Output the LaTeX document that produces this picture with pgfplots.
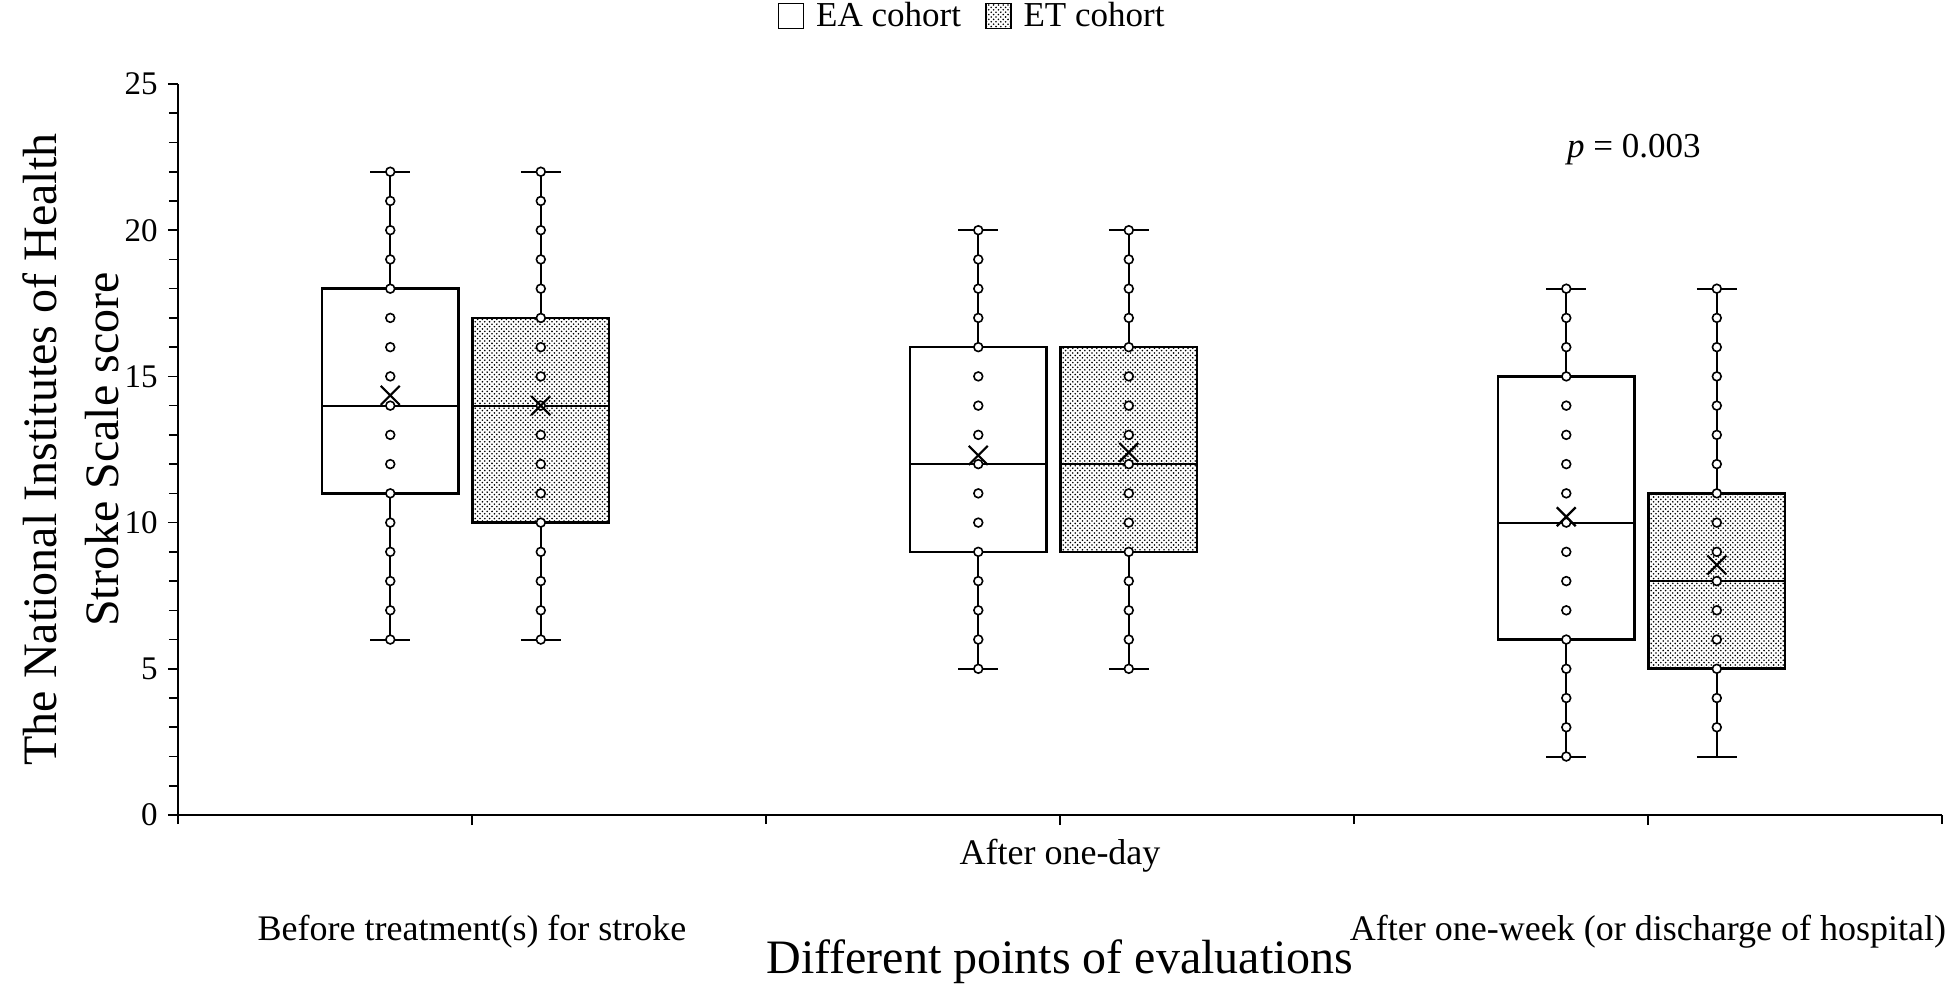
\documentclass[border=0pt]{standalone}
\usepackage{fontspec}
\setmainfont{Liberation Serif}
\usepackage{pgfplots}
\pgfplotsset{compat=1.18}
\usepgfplotslibrary{statistics}
\usetikzlibrary{patterns}
\pgfdeclarepatternformonly{finedots}{\pgfqpoint{-0.5pt}{-0.5pt}}{\pgfqpoint{2.9pt}{2.9pt}}{\pgfqpoint{2.4pt}{2.4pt}}{%
  \pgfpathcircle{\pgfqpoint{0pt}{0pt}}{0.45pt}%
  \pgfpathcircle{\pgfqpoint{1.2pt}{1.2pt}}{0.45pt}%
  \pgfusepath{fill}}

\begin{document}
\begin{tikzpicture}
\useasboundingbox (-89pt,-87pt) rectangle (884pt,407.5pt);
\begin{axis}[
  at={(0pt,0pt)}, anchor=south west,
  width=882pt, height=365.5pt, scale only axis,
  xmin=-0.5, xmax=2.5, ymin=0, ymax=25,
  clip=false,
  axis x line*=bottom, axis y line*=left,
  axis line style={line width=0.9pt, -},
  xtick={0,1,2}, xticklabels={}, minor xtick={-0.5,0.5,1.5,2.5},
  ytick={0,5,...,25}, minor y tick num=4,
  tick align=outside, major tick length=5pt, minor tick length=4.5pt,
  tick style={black, line width=0.8pt},
  minor tick style={black, line width=0.8pt},
  yticklabel style={anchor=east, inner sep=0pt, xshift=-5pt, font=\fontsize{16.5}{20}\selectfont},
  /pgf/number format/assume math mode=true,
  every axis y label/.style={at={(axis description cs:-0.0609,0.5)}, rotate=90, anchor=center},
  ylabel={The National Institutes of Health\\Stroke Scale score},
  ylabel style={align=center, font=\fontsize{24}{31}\selectfont},
  legend style={at={(0.4507,1.093)}, anchor=center, draw=none, fill=none,
    font=\fontsize{17.5}{20}\selectfont,
    /tikz/every even column/.append style={column sep=10pt}},
  legend columns=2,
  legend image code/.code={\draw[#1, line width=0.8pt] (0pt,-6.25pt) rectangle (12.5pt,6.25pt);},
  boxplot/draw direction=y,
]
\addlegendimage{draw=black, fill=white}
\addlegendentry{\hspace{4pt}EA cohort}
\addlegendimage{draw=black, pattern=finedots}
\addlegendentry{\hspace{4pt}ET cohort}

% EA cohort boxes
\addplot[forget plot, black, line width=1pt,
  boxplot/every box/.style={draw=black, line width=1.3pt, fill=white},
  boxplot/every median/.style={line width=1pt},
  boxplot prepared={draw position=-0.139, lower whisker=6, lower quartile=11, median=14, upper quartile=18, upper whisker=22, box extend=0.232, whisker extend=0.068}] coordinates {};
\addplot[forget plot, black, line width=1pt,
  boxplot/every box/.style={draw=black, line width=1.3pt, fill=white},
  boxplot/every median/.style={line width=1pt},
  boxplot prepared={draw position=0.861, lower whisker=5, lower quartile=9, median=12, upper quartile=16, upper whisker=20, box extend=0.232, whisker extend=0.068}] coordinates {};
\addplot[forget plot, black, line width=1pt,
  boxplot/every box/.style={draw=black, line width=1.3pt, fill=white},
  boxplot/every median/.style={line width=1pt},
  boxplot prepared={draw position=1.861, lower whisker=2, lower quartile=6, median=10, upper quartile=15, upper whisker=18, box extend=0.232, whisker extend=0.068}] coordinates {};
% ET cohort boxes
\addplot[forget plot, black, line width=1pt,
  boxplot/every box/.style={draw=black, line width=1.3pt, pattern=finedots},
  boxplot/every median/.style={line width=1pt},
  boxplot prepared={draw position=0.117, lower whisker=6, lower quartile=10, median=14, upper quartile=17, upper whisker=22, box extend=0.232, whisker extend=0.068}] coordinates {};
\addplot[forget plot, black, line width=1pt,
  boxplot/every box/.style={draw=black, line width=1.3pt, pattern=finedots},
  boxplot/every median/.style={line width=1pt},
  boxplot prepared={draw position=1.117, lower whisker=5, lower quartile=9, median=12, upper quartile=16, upper whisker=20, box extend=0.232, whisker extend=0.068}] coordinates {};
\addplot[forget plot, black, line width=1pt,
  boxplot/every box/.style={draw=black, line width=1.3pt, pattern=finedots},
  boxplot/every median/.style={line width=1pt},
  boxplot prepared={draw position=2.117, lower whisker=2, lower quartile=5, median=8, upper quartile=11, upper whisker=18, box extend=0.232, whisker extend=0.068}] coordinates {};

% individual scores
\addplot[forget plot, only marks, mark=*, mark size=2.2pt, mark options={fill=white, draw=black, line width=0.8pt}] coordinates {
(-0.139,6) (-0.139,7) (-0.139,8) (-0.139,9) (-0.139,10) (-0.139,11) (-0.139,12) (-0.139,13) (-0.139,14) (-0.139,15) (-0.139,16) (-0.139,17) (-0.139,18) (-0.139,19) (-0.139,20) (-0.139,21) (-0.139,22)
(0.117,6) (0.117,7) (0.117,8) (0.117,9) (0.117,10) (0.117,11) (0.117,12) (0.117,13) (0.117,14) (0.117,15) (0.117,16) (0.117,17) (0.117,18) (0.117,19) (0.117,20) (0.117,21) (0.117,22)
(0.861,5) (0.861,6) (0.861,7) (0.861,8) (0.861,9) (0.861,10) (0.861,11) (0.861,12) (0.861,13) (0.861,14) (0.861,15) (0.861,16) (0.861,17) (0.861,18) (0.861,19) (0.861,20)
(1.117,5) (1.117,6) (1.117,7) (1.117,8) (1.117,9) (1.117,10) (1.117,11) (1.117,12) (1.117,13) (1.117,14) (1.117,15) (1.117,16) (1.117,17) (1.117,18) (1.117,19) (1.117,20)
(1.861,2) (1.861,3) (1.861,4) (1.861,5) (1.861,6) (1.861,7) (1.861,8) (1.861,9) (1.861,10) (1.861,11) (1.861,12) (1.861,13) (1.861,14) (1.861,15) (1.861,16) (1.861,17) (1.861,18)
(2.117,3) (2.117,4) (2.117,5) (2.117,6) (2.117,7) (2.117,8) (2.117,9) (2.117,10) (2.117,11) (2.117,12) (2.117,13) (2.117,14) (2.117,15) (2.117,16) (2.117,17) (2.117,18)
};
% means
\addplot[forget plot, only marks, mark=x, mark size=6.7pt, mark options={line width=1.1pt, draw=black}] coordinates {
(-0.139,14.35) (0.117,14.0) (0.861,12.3) (1.117,12.4) (1.861,10.2) (2.117,8.55)};

\node[anchor=base, font=\fontsize{17.5}{20}\selectfont] at (axis cs:1.976,22.5) {\textit{p} = 0.003};

\node[anchor=base, yshift=-62.5pt, font=\fontsize{18}{21}\selectfont] at (axis cs:0,0) {Before treatment(s) for stroke};
\node[anchor=base, yshift=-24.5pt, font=\fontsize{18}{21}\selectfont] at (axis cs:1,0) {After one-day};
\node[anchor=base, yshift=-62.5pt, font=\fontsize{18}{21}\selectfont] at (axis cs:2,0) {After one-week (or discharge of hospital)};
\node[anchor=base, yshift=-79pt, font=\fontsize{24}{28}\selectfont] at (axis cs:1,0) {Different points of evaluations};
\end{axis}
\end{tikzpicture}
\end{document}
